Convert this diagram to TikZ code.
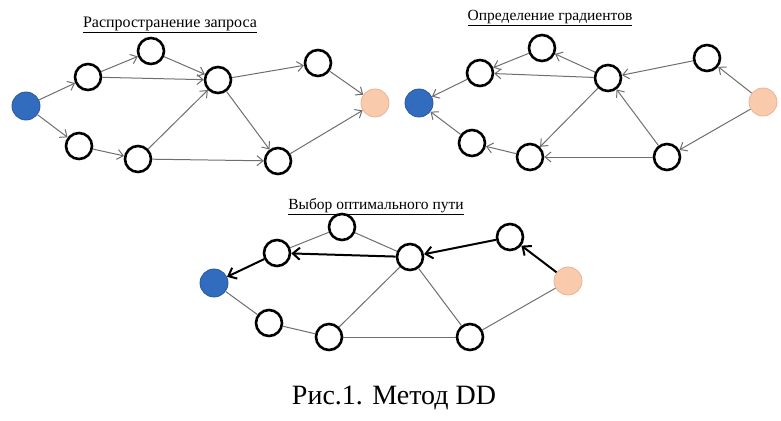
\documentclass[tikz,border=0pt]{standalone}
\usepackage{fontspec}
\setmainfont{Liberation Serif}
\usetikzlibrary{arrows.meta}
\definecolor{srcblue}{RGB}{50,108,190}
\definecolor{srcedge}{RGB}{40,88,160}
\definecolor{snkor}{RGB}{250,202,172}
\definecolor{snkedge}{RGB}{232,180,150}
\definecolor{edgegray}{RGB}{110,110,110}
\tikzset{
  nd/.style={circle, draw=black, line width=2.6pt, minimum size=26pt, inner sep=0pt, fill=white},
  srcn/.style={circle, fill=srcblue, draw=srcedge, line width=0.8pt, minimum size=28pt, inner sep=0pt},
  snkn/.style={circle, fill=snkor, draw=snkedge, line width=0.8pt, minimum size=28pt, inner sep=0pt},
  ar/.style={draw=edgegray, line width=1pt, -{Straight Barb[length=6pt,width=10pt]}},
  ln/.style={draw=edgegray, line width=1pt},
  bar/.style={draw=black, line width=2pt, -{Straight Barb[length=7pt,width=12pt]}},
  ttl/.style={font=\fontsize{15.5}{18}\selectfont, inner sep=0pt},
}
\begin{document}
\begin{tikzpicture}[x=1pt,y=-1pt]
\useasboundingbox (0,0) rectangle (781,420);
% ---------- Panel 1 ----------
\node[srcn] (p1s) at (26,106) {};
\node[nd] (p1a) at (88,77) {};
\node[nd] (p1b) at (151,51) {};
\node[nd] (p1c) at (218,80) {};
\node[nd] (p1d) at (318,63) {};
\node[snkn] (p1t) at (375,103) {};
\node[nd] (p1e) at (79,146) {};
\node[nd] (p1f) at (138,159) {};
\node[nd] (p1g) at (278,161) {};
\draw[ar] (p1s) -- (p1a);
\draw[ar] (p1a) -- (p1b);
\draw[ar] (p1b) -- (p1c);
\draw[ar] (p1a) -- (p1c);
\draw[ar] (p1c) -- (p1d);
\draw[ar] (p1d) -- (p1t);
\draw[ar] (p1s) -- (p1e);
\draw[ar] (p1e) -- (p1f);
\draw[ar] (p1f) -- (p1c);
\draw[ar] (p1f) -- (p1g);
\draw[ar] (p1c) -- (p1g);
\draw[ar] (p1g) -- (p1t);
\node[ttl, font=\fontsize{16}{18}\selectfont] (t1) at (170,25) {\underline{Распространение запроса}};
% ---------- Panel 2 ----------
\node[srcn] (p2s) at (419,103) {};
\node[nd] (p2a) at (480,73) {};
\node[nd] (p2b) at (542,48) {};
\node[nd] (p2c) at (608,78) {};
\node[nd] (p2d) at (707,58) {};
\node[snkn] (p2t) at (763,102) {};
\node[nd] (p2e) at (472,143) {};
\node[nd] (p2f) at (530,157) {};
\node[nd] (p2g) at (667,157) {};
\draw[ar] (p2a) -- (p2s);
\draw[ar] (p2b) -- (p2a);
\draw[ar] (p2c) -- (p2b);
\draw[ar] (p2c) -- (p2a);
\draw[ar] (p2d) -- (p2c);
\draw[ar] (p2t) -- (p2d);
\draw[ar] (p2e) -- (p2s);
\draw[ar] (p2f) -- (p2e);
\draw[ar] (p2c) -- (p2f);
\draw[ar] (p2g) -- (p2c);
\draw[ar] (p2g) -- (p2f);
\draw[ar] (p2t) -- (p2g);
\node[ttl] (t2) at (550,18) {\underline{Определение градиентов}};
% ---------- Panel 3 ----------
\node[srcn] (p3s) at (214,283) {};
\node[nd] (p3a) at (277,253) {};
\node[nd] (p3b) at (342,227) {};
\node[nd] (p3c) at (410,257) {};
\node[nd] (p3d) at (510,237) {};
\node[snkn] (p3t) at (568,281) {};
\node[nd] (p3e) at (269,323) {};
\node[nd] (p3f) at (329,337) {};
\node[nd] (p3g) at (470,337) {};
\draw[ln] (p3a) -- (p3b);
\draw[ln] (p3b) -- (p3c);
\draw[ln] (p3s) -- (p3e);
\draw[ln] (p3e) -- (p3f);
\draw[ln] (p3f) -- (p3c);
\draw[ln] (p3f) -- (p3g);
\draw[ln] (p3c) -- (p3g);
\draw[ln] (p3g) -- (p3t);
\draw[bar] (p3t) -- (p3d);
\draw[bar] (p3d) -- (p3c);
\draw[bar] (p3c) -- (p3a);
\draw[bar] (p3a) -- (p3s);
\node[ttl] (t3) at (376,207) {\underline{Выбор оптимального пути}};
% ---------- Caption ----------
\node[font=\fontsize{28}{32}\selectfont, inner sep=0pt] (cap) at (394,398) {Рис.1. Метод DD};
\end{tikzpicture}
\end{document}
